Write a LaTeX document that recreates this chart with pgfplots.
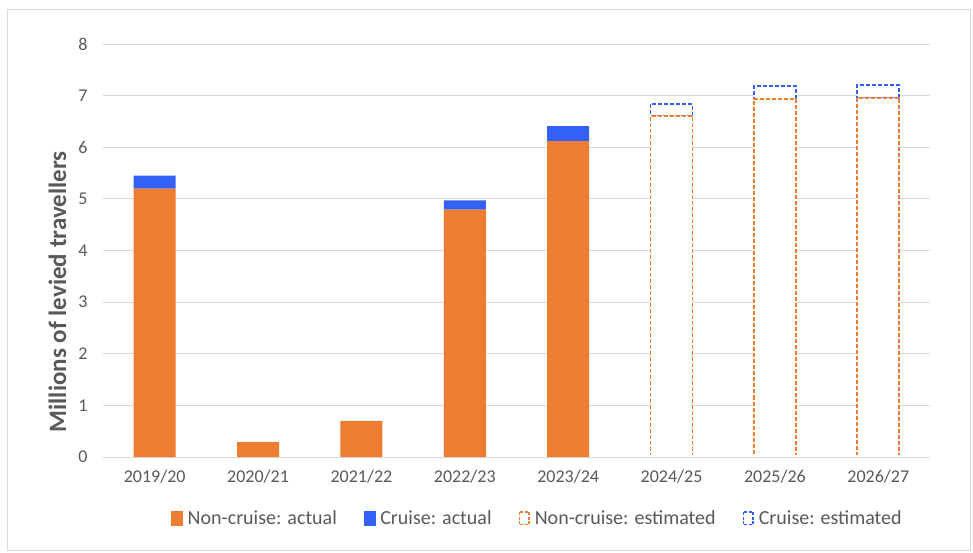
\documentclass[border=0pt]{standalone}
\usepackage{pgfplots}
\pgfplotsset{compat=1.18}
\usepackage{fontspec}
\setmainfont{Carlito}
\definecolor{nc}{HTML}{ED7D31}
\definecolor{cr}{HTML}{3361F5}
\definecolor{txt}{HTML}{595959}
\definecolor{grd}{HTML}{D9D9D9}
\pgfplotsset{
  base/.style={
    scale only axis, width=827pt, height=413pt,
    xmin=-0.5, xmax=7.5, ymin=0, ymax=8,
    ybar stacked, bar width=42pt,
  },
  dashbox/.style={line width=1.8pt, dash pattern=on 4pt off 2pt},
}
\begin{document}
\begin{tikzpicture}
\fill[white] (-103pt,-95pt) rectangle (870pt,457pt);
\draw[grd, line width=1pt] (-95pt,-93pt) rectangle (867pt,447pt);
\begin{axis}[base,
  axis x line=bottom, axis y line=left,
  x axis line style={grd, line width=1pt, -},
  y axis line style={draw=none},
  major tick length=0pt,
  xtick={0,...,7},
  xticklabels={2019/20,2020/21,2021/22,2022/23,2023/24,2024/25,2025/26,2026/27},
  ytick={0,...,8},
  ymajorgrids, grid style={grd, line width=0.9pt},
  /pgf/number format/assume math mode=true,
  ticklabel style={font=\fontsize{18}{21}\selectfont, text=txt},
  xticklabel style={yshift=-9pt},
  yticklabel style={xshift=-12pt},
  ylabel={Millions of levied travellers},
  ylabel style={at={(axis description cs:-0.055,0.40)}, anchor=center, rotate=0,
    font=\fontsize{25}{30}\selectfont\bfseries, text=txt},
  legend columns=4,
  legend style={draw=none, fill=none, at={(axis description cs:0.526,-0.148)}, anchor=center,
    font=\fontsize{20}{23}\selectfont, text=txt,
    /tikz/every even column/.append style={column sep=24pt},
    /tikz/every odd column/.append style={column sep=0pt},
    nodes={inner sep=3pt}},
]
\addplot[fill=nc, draw=none, forget plot] coordinates {(0,5.20) (1,0.29) (2,0.70) (3,4.79) (4,6.12)};
\addplot[fill=cr, draw=none, forget plot] coordinates {(0,0.25) (1,0) (2,0) (3,0.18) (4,0.29)};
\addlegendimage{legend image code/.code={\fill[nc] (0pt,-7pt) rectangle (11pt,7pt); \path (13pt,0pt);}}
\addlegendimage{legend image code/.code={\fill[cr] (0pt,-7pt) rectangle (11pt,7pt); \path (13pt,0pt);}}
\addlegendimage{legend image code/.code={\draw[fill=white, draw=nc, line width=1.4pt, dash pattern=on 3pt off 1.5pt] (0.7pt,-6.3pt) rectangle (10.3pt,6.3pt); \path (13pt,0pt);}}
\addlegendimage{legend image code/.code={\draw[fill=white, draw=cr, line width=1.4pt, dash pattern=on 3pt off 1.5pt] (0.7pt,-6.3pt) rectangle (10.3pt,6.3pt); \path (13pt,0pt);}}
\legend{Non-cruise: actual, Cruise: actual, Non-cruise: estimated, Cruise: estimated}
\end{axis}
\begin{scope}
\clip (-2pt,2.5pt) rectangle (830pt,420pt);
\begin{axis}[base, hide axis]
\addplot[fill=white, draw=nc, dashbox] coordinates {(5,6.61) (6,6.93) (7,6.96)};
\addplot[fill=white, draw=cr, dashbox] coordinates {(5,0.23) (6,0.25) (7,0.25)};
\end{axis}
\end{scope}
\end{tikzpicture}
\end{document}
